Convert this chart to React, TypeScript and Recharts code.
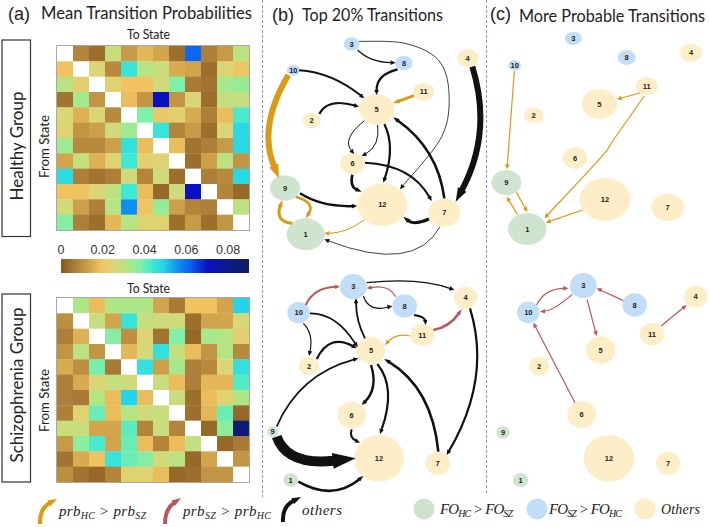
import React from "react"
import { ScatterChart, Scatter, XAxis, YAxis, ReferenceArea } from "recharts"

const BLACK = "#111111"
const GOLD = "#d99a14"
const RED = "#b85858"
const UI_FONT = "Lato, 'Open Sans', sans-serif"

const healthyMatrix = [
  [null, .008, .004, .028, .012, .017, .014, .004, .061, .007, .012, .03],
  [.019, null, .025, .009, .045, .031, .028, .015, .014, .004, .025, .02],
  [.03, .023, null, .024, .019, .019, .027, .038, .006, .005, .033, .035],
  [.005, .033, .011, null, .018, .011, .071, .011, .025, .004, .029, .029],
  [.026, .016, .025, .009, null, .038, .021, .023, .015, .007, .018, .043],
  [.024, .011, .013, .027, .034, null, .045, .008, .012, .004, .025, .048],
  [.034, .009, .009, .013, .046, .018, null, .018, .005, .007, .012, .048],
  [.014, .029, .016, .024, .044, .023, .025, null, .004, .013, .03, .011],
  [.047, .007, .005, .007, .027, .008, .027, .004, null, .007, .009, .048],
  [.019, .019, .025, .03, .044, .018, .003, .027, .07, null, .008, .003],
  [.027, .013, .007, .031, .056, .02, .035, .013, .008, .007, null, .03],
  [.037, .007, .004, .017, .031, .024, .024, .004, .012, .004, .011, null],
]

const schizoMatrix = [
  [null, .032, .018, .032, .032, .032, .014, .006, .019, .019, .014, .049],
  [.01, null, .029, .014, .045, .029, .027, .027, .004, .014, .014, .026],
  [.007, .016, null, .037, .01, .025, .005, .038, .003, .033, .031, .023],
  [.011, .03, .011, null, .017, .026, .046, .029, .018, .011, .031, .009],
  [.015, .01, .039, .006, null, .046, .013, .033, .007, .009, .025, .046],
  [.007, .015, .025, .029, .027, null, .028, .018, .007, .017, .017, .042],
  [.007, .006, .031, .018, .049, .018, null, .028, .004, .018, .024, .032],
  [.007, .024, .04, .018, .031, .027, .028, null, .004, .017, .04, .003],
  [.028, .028, .014, .014, .041, .008, .028, .008, null, .003, .036, .085],
  [.012, .036, .043, .014, .04, .018, .008, .018, .029, null, .003, .006],
  [.005, .015, .019, .045, .04, .037, .027, .03, .003, .014, null, .011],
  [.01, .005, .003, .008, .024, .024, .018, .003, .004, .011, .011, null],
]

const colorStops: [number, number[]][] = [
  [0, [132, 88, 28]],
  [.006, [168, 122, 54]],
  [.012, [198, 154, 70]],
  [.019, [240, 194, 96]],
  [.026, [216, 216, 120]],
  [.032, [174, 230, 134]],
  [.038, [126, 240, 168]],
  [.044, [62, 232, 212]],
  [.049, [34, 212, 236]],
  [.056, [16, 142, 240]],
  [.062, [10, 96, 240]],
  [.07, [10, 16, 196]],
  [.08, [12, 26, 140]],
  [.09, [10, 32, 96]],
]
const colorbarTicks = [0, .02, .04, .06, .08]

// node tables: [state, x, y, rx, ry] in layout units
const bTopNodes = [
  [1, 122, 703, 57, 48], [2, 140, 362, 27, 24], [3, 260, 132, 24, 20], [4, 608, 174, 32, 27],
  [5, 335, 328, 52, 46], [6, 263, 490, 37, 32], [7, 538, 638, 48, 42], [8, 417, 189, 26, 22],
  [9, 60, 564, 45, 38], [10, 85, 211, 20, 16], [11, 476, 275, 32, 27], [12, 352, 614, 75, 64],
]
const bBottomNodes = [
  [1, 77, 660, 22, 20], [2, 132, 318, 30, 28], [3, 265, 80, 40, 38], [4, 602, 113, 35, 33],
  [5, 318, 272, 42, 40], [6, 260, 465, 43, 40], [7, 518, 610, 37, 35], [8, 419, 138, 37, 35],
  [9, 23, 515, 16, 16], [10, 101, 158, 34, 32], [11, 472, 225, 36, 33], [12, 342, 595, 75, 70],
]
const cTopNodes = [
  [1, 127, 687, 58, 48], [2, 146, 346, 29, 24], [3, 265, 115, 25, 20], [4, 618, 158, 33, 27],
  [5, 343, 312, 53, 45], [6, 270, 474, 37, 32], [7, 548, 622, 49, 41], [8, 425, 173, 27, 22],
  [9, 64, 548, 45, 38], [10, 89, 196, 19, 16], [11, 485, 259, 33, 27], [12, 360, 598, 76, 64],
]
const cBottomNodes = [
  [1, 107, 660, 23, 21], [2, 162, 318, 30, 28], [3, 295, 77, 40, 38], [4, 632, 110, 35, 33],
  [5, 347, 270, 44, 41], [6, 290, 464, 43, 41], [7, 549, 610, 36, 35], [8, 449, 135, 37, 35],
  [9, 54, 517, 20, 19], [10, 130, 157, 34, 32], [11, 501, 223, 37, 34], [12, 372, 595, 76, 70],
]

const healthyStates = [1, 9]
const schizoStates = [3, 8, 10]

// edges: [colour, width, waypoints]
type Edge = [string, number, number[][]]
const bTopEdges: Edge[] = [
  [BLACK, 1.2, [[278, 150], [325, 178], [392, 188]]],
  [BLACK, 0.8, [[282, 124], [420, 130], [520, 180], [552, 280], [530, 410], [405, 568]]],
  [BLACK, 2, [[102, 211], [200, 235], [298, 295]]],
  [BLACK, 2.2, [[398, 208], [350, 235], [335, 285]]],
  [GOLD, 3, [[447, 287], [383, 310]]],
  [BLACK, 2.2, [[163, 342], [205, 312], [282, 320]]],
  [BLACK, 1, [[298, 362], [256, 415], [268, 462]]],
  [BLACK, 1, [[338, 375], [330, 430], [290, 468]]],
  [BLACK, 2.2, [[358, 372], [374, 450], [355, 548]]],
  [BLACK, 2.6, [[538, 595], [490, 460], [385, 352]]],
  [BLACK, 2, [[300, 488], [420, 520], [500, 603]]],
  [BLACK, 2.6, [[262, 524], [265, 555], [290, 575]]],
  [BLACK, 2.4, [[105, 580], [180, 610], [277, 618]]],
  [BLACK, 3, [[492, 657], [450, 665], [415, 650]]],
  [GOLD, 1, [[298, 660], [240, 690], [178, 700]]],
  [BLACK, 0.8, [[525, 680], [400, 760], [178, 718]]],
  [GOLD, 3, [[82, 670], [48, 650], [52, 600]]],
  [GOLD, 2.6, [[92, 590], [130, 615], [122, 655]]],
  [GOLD, 6, [[70, 225], [17, 380], [42, 535]]],
  [BLACK, 6, [[622, 200], [640, 400], [572, 605]]],
]
const bBottomEdges: Edge[] = [
  [RED, 2, [[122, 135], [160, 95], [225, 80]]],
  [BLACK, 1.2, [[305, 68], [450, 65], [568, 90]]],
  [RED, 1.2, [[392, 110], [360, 85], [305, 85]]],
  [BLACK, 1.2, [[295, 108], [325, 140], [382, 138]]],
  [BLACK, 2, [[447, 165], [472, 175], [482, 195]]],
  [RED, 2.6, [[505, 210], [550, 190], [590, 148]]],
  [GOLD, 1.2, [[435, 228], [395, 230], [360, 255]]],
  [BLACK, 1.6, [[135, 160], [210, 185], [278, 262]]],
  [BLACK, 1.2, [[115, 190], [135, 230], [132, 288]]],
  [BLACK, 2.2, [[155, 297], [205, 250], [275, 265]]],
  [BLACK, 1.8, [[300, 235], [280, 180], [273, 115]]],
  [BLACK, 1.6, [[35, 500], [130, 370], [280, 295]]],
  [BLACK, 2.4, [[318, 315], [322, 380], [290, 435]]],
  [BLACK, 2.2, [[337, 312], [368, 400], [345, 522]]],
  [BLACK, 2.6, [[520, 575], [470, 410], [358, 297]]],
  [BLACK, 2.2, [[615, 145], [630, 360], [545, 585]]],
  [BLACK, 2, [[260, 508], [262, 530], [285, 548]]],
  [BLACK, 10, [[35, 530], [110, 590], [272, 595]]],
  [BLACK, 2.6, [[100, 665], [200, 690], [295, 648]]],
]
const cTopEdges: Edge[] = [
  [GOLD, 1.2, [[88, 213], [66, 508]]],
  [GOLD, 1.2, [[465, 279], [395, 298]]],
  [GOLD, 1.2, [[478, 288], [385, 420], [350, 470], [178, 655]]],
  [GOLD, 1.2, [[94, 577], [127, 636]]],
  [GOLD, 1.2, [[97, 643], [65, 590]]],
  [GOLD, 1.2, [[293, 630], [182, 668]]],
]
const cBottomEdges: Edge[] = [
  [RED, 1.2, [[155, 135], [190, 98], [250, 85]]],
  [RED, 1.2, [[262, 103], [210, 140], [165, 155]]],
  [RED, 1.2, [[415, 122], [335, 85]]],
  [RED, 1.2, [[306, 118], [335, 228]]],
  [RED, 1.2, [[270, 428], [145, 188]]],
  [RED, 1.2, [[528, 198], [605, 135]]],
]

function valueColor(v: number) {
  for (let i = 1; i < colorStops.length; i++) {
    const [v0, c0] = colorStops[i - 1]
    const [v1, c1] = colorStops[i]
    if (v <= v1) {
      const t = (v - v0) / (v1 - v0)
      const c = c0.map((a, k) => Math.round(a + (c1[k] - a) * t))
      return `rgb(${c[0]},${c[1]},${c[2]})`
    }
  }
  return "rgb(10,32,96)"
}

function nodeColor(state: number) {
  if (healthyStates.includes(state)) return "#cfe4cf"
  if (schizoStates.includes(state)) return "#c2ddf8"
  return "#fdeec8"
}

// 3 waypoints make one quadratic through the middle point, more make a smooth chain
function arrowPath(pts: { x: number; y: number }[], w: number) {
  const headLen = Math.max(5, w * 2.3)
  const headHalf = Math.max(2.3, w * 0.8)
  const n = pts.length
  const last = pts[n - 1]
  let ctrl = pts[Math.max(0, n - 2)]
  if (n === 3) {
    ctrl = { x: 2 * pts[1].x - (pts[0].x + last.x) / 2, y: 2 * pts[1].y - (pts[0].y + last.y) / 2 }
  }
  let dx = last.x - ctrl.x
  let dy = last.y - ctrl.y
  const len = Math.hypot(dx, dy) || 1
  dx /= len
  dy /= len
  const baseX = last.x - dx * headLen
  const baseY = last.y - dy * headLen
  const endX = baseX + dx
  const endY = baseY + dy
  let d = `M${pts[0].x},${pts[0].y}`
  if (n === 2) {
    d += `L${endX},${endY}`
  } else if (n === 3) {
    d += `Q${ctrl.x},${ctrl.y} ${endX},${endY}`
  } else {
    const line = [...pts.slice(0, n - 1), { x: endX, y: endY }]
    const at = (i: number) => line[Math.max(0, Math.min(n - 1, i))]
    for (let i = 0; i < n - 1; i++) {
      const p0 = at(i - 1)
      const p1 = at(i)
      const p2 = at(i + 1)
      const p3 = at(i + 2)
      d += `C${p1.x + (p2.x - p0.x) / 6},${p1.y + (p2.y - p0.y) / 6} ${p2.x - (p3.x - p1.x) / 6},${p2.y - (p3.y - p1.y) / 6} ${p2.x},${p2.y}`
    }
  }
  const head = `M${last.x},${last.y}L${baseX - dy * headHalf},${baseY + dx * headHalf}L${baseX + dy * headHalf},${baseY - dx * headHalf}Z`
  return { d, head }
}

function Arrow({ points, color, w }: { points: { x: number; y: number }[]; color: string; w: number }) {
  const { d, head } = arrowPath(points, w)
  return (
    <g>
      <path d={d} fill="none" stroke={color} strokeWidth={w} />
      <path d={head} fill={color} />
    </g>
  )
}

function Heatmap({ matrix, left, top }: { matrix: (number | null)[][]; left: number; top: number }) {
  const width = 192
  const height = 184
  const cells = matrix.flatMap((row, r) => row.map((v, c) => ({ x: c + 1, y: r + 1, v })))
  const cellW = width / 12
  const cellH = height / 12
  return (
    <div style={{ position: "absolute", left, top, width, height, outline: "1px solid #a9a9a0" }}>
      <ScatterChart width={width} height={height} margin={{ top: 0, right: 0, bottom: 0, left: 0 }}>
        <XAxis type="number" dataKey="x" domain={[0.5, 12.5]} hide />
        <YAxis type="number" dataKey="y" domain={[0.5, 12.5]} reversed hide />
        <Scatter
          data={cells}
          isAnimationActive={false}
          shape={(p: any) => (
            <rect
              x={p.cx - cellW / 2}
              y={p.cy - cellH / 2}
              width={cellW + 0.3}
              height={cellH + 0.3}
              fill={p.payload.v === null ? "#ffffff" : valueColor(p.payload.v)}
            />
          )}
        />
      </ScatterChart>
    </div>
  )
}

function Colorbar() {
  const domain = [0, 0.09]
  return (
    <div style={{ position: "absolute", left: 51, top: 240 }}>
      <ScatterChart width={198} height={33} margin={{ top: 0, right: 0, bottom: 0, left: 10 }}>
        <defs>
          <linearGradient id="barFill" x1="0" x2="1" y1="0" y2="0">
            {colorStops.map(([v]) => (
              <stop key={v} offset={v / domain[1]} stopColor={valueColor(v)} />
            ))}
          </linearGradient>
        </defs>
        <XAxis
          type="number"
          dataKey="x"
          orientation="top"
          height={19}
          domain={domain}
          ticks={colorbarTicks}
          interval={0}
          axisLine={false}
          tickSize={0}
          tickFormatter={(v: number) => (v === 0 ? "0" : v.toFixed(2))}
          tick={{ fontFamily: "'Liberation Sans'", fontSize: 12.5, fill: "#333", dy: -3 }}
        />
        <YAxis type="number" dataKey="y" domain={[0, 1]} hide />
        <ReferenceArea x1={0} x2={0.09} y1={0} y2={1} fill="url(#barFill)" fillOpacity={1} stroke="none" />
        <Scatter data={colorbarTicks.map((x) => ({ x, y: 0.5 }))} isAnimationActive={false} shape={() => null} />
      </ScatterChart>
    </div>
  )
}

function GraphPanel(props: { nodes: number[][]; edges: Edge[]; left: number; top: number; width: number; height: number }) {
  const { nodes, edges, left, top, width, height } = props
  const data = nodes.map(([state, x, y, rx, ry]) => ({ state, x, y, rx, ry }))
  return (
    <div style={{ position: "absolute", left, top }}>
      <ScatterChart width={width} height={height} margin={{ top: 0, right: 0, bottom: 0, left: 0 }}>
        <XAxis type="number" dataKey="x" domain={[0, width * 3]} hide />
        <YAxis type="number" dataKey="y" domain={[0, height * 3]} reversed hide />
        <Scatter
          data={data}
          isAnimationActive={false}
          shape={(p: any) => (
            <g>
              <ellipse cx={p.cx} cy={p.cy} rx={p.payload.rx / 3} ry={p.payload.ry / 3} fill={nodeColor(p.payload.state)} />
              <text
                x={p.cx}
                y={p.cy + 2.6}
                textAnchor="middle"
                fontSize={7.5}
                fontWeight="bold"
                fontFamily="'Liberation Sans'"
                fill="#222"
              >
                {p.payload.state}
              </text>
            </g>
          )}
        />
        {edges.map(([color, w, pts], i) => (
          <Scatter
            key={i}
            data={pts.map(([x, y]) => ({ x, y }))}
            isAnimationActive={false}
            line={(lp: any) => <Arrow points={lp.points} color={color} w={w} />}
            shape={() => null}
          />
        ))}
      </ScatterChart>
    </div>
  )
}

function MathLabel({ x, y, parts, width }: { x: number; y: number; parts: [string, boolean][]; width: number }) {
  return (
    <text x={x} y={y} fontFamily="'Liberation Serif'" fontStyle="italic" fontSize={15} fill="#222" textLength={width} lengthAdjust="spacing">
      {parts.map(([t, sub], i) => (
        <tspan key={i} fontSize={sub ? 10 : 15} dy={sub ? 3 : i > 0 ? -3 : 0}>
          {t}
        </tspan>
      ))}
    </text>
  )
}

function Overlay() {
  const sideBox = { fill: "#fff", stroke: "#333", strokeWidth: 1.2 }
  const title = { fontFamily: UI_FONT, fontSize: 17, fill: "#222", lengthAdjust: "spacingAndGlyphs" }
  const panelTag = { fontFamily: "'Liberation Sans'", fontSize: 18, fill: "#222" }
  const small = { fontFamily: UI_FONT, fontSize: 12.5, fill: "#222", lengthAdjust: "spacingAndGlyphs" }
  return (
    <svg width={709} height={527} style={{ position: "absolute", left: 0, top: 0 }}>
      <line x1={262.5} y1={0} x2={262.5} y2={497} stroke="#7d9ccb" strokeDasharray="3 2" />
      <line x1={486.5} y1={0} x2={486.5} y2={495} stroke="#7d9ccb" strokeDasharray="3 2" />

      <text x={8} y={20} {...panelTag}>(a)</text>
      <text x={41} y={19} {...title} textLength={211}>Mean Transition  Probabilities</text>
      <text x={272} y={21} {...panelTag}>(b)</text>
      <text x={302} y={21} {...title} textLength={141}>Top 20% Transitions</text>
      <text x={490} y={20} {...panelTag}>(c)</text>
      <text x={519} y={22} {...title} textLength={186}>More Probable Transitions</text>

      <rect x={2} y={40} width={28.5} height={196.5} {...sideBox} />
      <rect x={2} y={294} width={28.5} height={188} {...sideBox} />
      <text transform="translate(23,146) rotate(-90)" textAnchor="middle" fontFamily={UI_FONT} fontSize={17} fill="#222">Healthy Group</text>
      <text transform="translate(23,385) rotate(-90)" textAnchor="middle" fontFamily={UI_FONT} fontSize={17} fill="#222">Schizophrenia Group</text>

      <text x={127} y={39} {...small} textLength={43}>To State</text>
      <text x={127} y={293} {...small} textLength={43}>To State</text>
      <text transform="translate(49,178) rotate(-90)" {...small} textLength={63}>From  State</text>
      <text transform="translate(49,432) rotate(-90)" {...small} textLength={63}>From  State</text>

      <Arrow points={[{ x: 40, y: 524 }, { x: 44, y: 510 }, { x: 57, y: 499 }]} color={GOLD} w={4} />
      <MathLabel x={59} y={516} width={87} parts={[["prb", false], ["HC", true], [" > prb", false], ["SZ", true]]} />
      <Arrow points={[{ x: 165, y: 524 }, { x: 169, y: 510 }, { x: 181, y: 498 }]} color={RED} w={4} />
      <MathLabel x={183} y={516} width={88} parts={[["prb", false], ["SZ", true], [" > prb", false], ["HC", true]]} />
      <Arrow points={[{ x: 283, y: 522 }, { x: 287, y: 508 }, { x: 301, y: 497 }]} color={BLACK} w={4} />
      <text x={302} y={515} fontFamily="'Liberation Serif'" fontStyle="italic" fontSize={15} fill="#222" textLength={40}>others</text>

      <circle cx={424} cy={509} r={10.5} fill="#cfe4cf" />
      <MathLabel x={440} y={514} width={73} parts={[["FO", false], ["HC", true], [" > FO", false], ["SZ", true]]} />
      <circle cx={537} cy={509} r={10.5} fill="#c2ddf8" />
      <MathLabel x={549} y={514} width={73} parts={[["FO", false], ["SZ", true], [" > FO", false], ["HC", true]]} />
      <circle cx={645} cy={509} r={10.5} fill="#fdeec8" />
      <text x={661} y={514} fontFamily="'Liberation Serif'" fontStyle="italic" fontSize={14} fill="#222" textLength={39}>Others</text>
    </svg>
  )
}

export default function App() {
  return (
    <div style={{ position: "absolute", left: 0, top: 0, width: 709, height: 527, background: "#fff", overflow: "hidden" }}>
      <Overlay />
      <Heatmap matrix={healthyMatrix} left={57} top={46} />
      <Colorbar />
      <Heatmap matrix={schizoMatrix} left={57} top={298} />
      <GraphPanel nodes={bTopNodes} edges={bTopEdges} left={265} top={0} width={220} height={260} />
      <GraphPanel nodes={bBottomNodes} edges={bBottomEdges} left={265} top={260} width={220} height={267} />
      <GraphPanel nodes={cTopNodes} edges={cTopEdges} left={485} top={0} width={224} height={260} />
      <GraphPanel nodes={cBottomNodes} edges={cBottomEdges} left={485} top={260} width={224} height={267} />
    </div>
  )
}
